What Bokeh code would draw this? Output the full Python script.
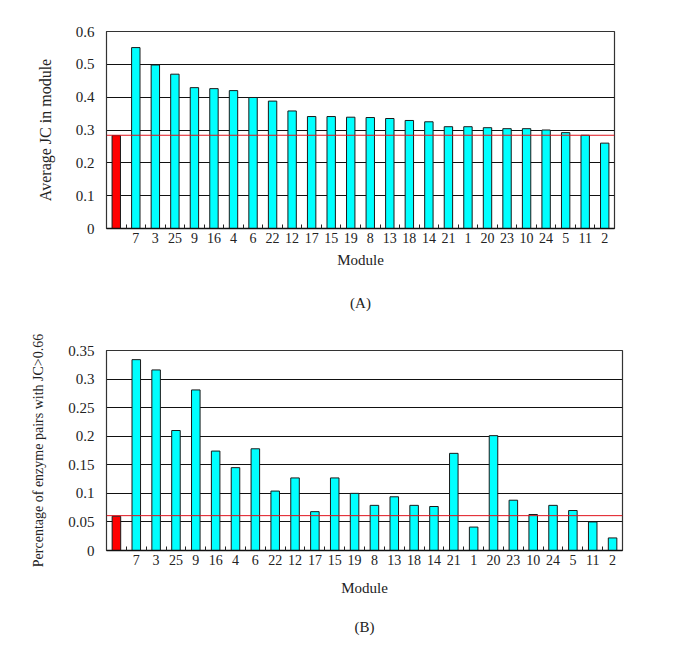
from bokeh.plotting import figure
from bokeh.models import Range1d, FixedTicker, Span, Title, ColumnDataSource
from bokeh.layouts import column
from bokeh.embed import file_html
from bokeh.resources import INLINE

# ---- data ----
modules = ["", "7", "3", "25", "9", "16", "4", "6", "22", "12", "17", "15", "19",
           "8", "13", "18", "14", "21", "1", "20", "23", "10", "24", "5", "11", "2"]
avg_jc = [0.283, 0.551, 0.498, 0.470, 0.429, 0.426, 0.420, 0.399, 0.388, 0.358,
          0.341, 0.341, 0.339, 0.338, 0.335, 0.329, 0.325, 0.310, 0.310, 0.307,
          0.304, 0.304, 0.300, 0.292, 0.284, 0.260]
avg_jc_reference = 0.284
pct_high_jc = [0.060, 0.334, 0.316, 0.210, 0.281, 0.174, 0.145, 0.178, 0.104, 0.127,
               0.068, 0.127, 0.100, 0.079, 0.094, 0.079, 0.077, 0.170, 0.041, 0.201,
               0.088, 0.063, 0.079, 0.070, 0.050, 0.022]
pct_reference = 0.061
y_ticks_a = [0, 0.1, 0.2, 0.3, 0.4, 0.5, 0.6]
y_labels_a = ["0", "0.1", "0.2", "0.3", "0.4", "0.5", "0.6"]
y_ticks_b = [0, 0.05, 0.1, 0.15, 0.2, 0.25, 0.3, 0.35]
y_labels_b = ["0", "0.05", "0.1", "0.15", "0.2", "0.25", "0.3", "0.35"]

FONT = "Liberation Serif"
x_pos = list(range(1, len(modules) + 1))
bar_colors = ["#FF0000"] + ["#00FFFF"] * (len(modules) - 1)


def panel(values, ref, yt, yl, ylabel, caption, width, height,
          bl, br, bt, bb, xlab_standoff, title_standoff, ytitle_size):
    p = figure(width=width, height=height, output_backend="svg", toolbar_location=None,
               x_range=Range1d(0.5, len(modules) + 0.5),
               y_range=Range1d(yt[0], yt[-1]),
               min_border_left=bl, min_border_right=br,
               min_border_top=bt, min_border_bottom=bb)
    src = ColumnDataSource(dict(x=x_pos, top=values, color=bar_colors))
    p.vbar(x="x", top="top", width=0.43, source=src, fill_color="color",
           line_color="#1a1a1a", line_width=1)
    p.add_layout(Span(location=ref, dimension="width", line_color="#E0141E",
                      line_width=1))
    p.outline_line_color = "#333333"
    p.outline_line_width = 1.2
    p.xgrid.visible = False
    p.ygrid.grid_line_color = "#111111"
    p.ygrid.grid_line_width = 1.2
    p.background_fill_color = "white"

    p.xaxis.ticker = FixedTicker(ticks=x_pos,
                                 minor_ticks=[x + 0.5 for x in x_pos[:-1]])
    p.xaxis.major_label_overrides = {x: m for x, m in zip(x_pos, modules)}
    p.xaxis.major_tick_in = 0
    p.xaxis.major_tick_out = 0
    p.xaxis.minor_tick_in = 4
    p.xaxis.minor_tick_out = 0
    p.xaxis.minor_tick_line_color = "#222222"
    p.xaxis.axis_line_color = "#111111"
    p.xaxis.axis_line_width = 1.5
    p.xaxis.major_label_standoff = 4
    p.xaxis.axis_label = "Module"
    p.xaxis.axis_label_standoff = xlab_standoff

    p.yaxis.ticker = FixedTicker(ticks=yt)
    p.yaxis.major_label_overrides = {t: l for t, l in zip(yt, yl)}
    p.yaxis.major_tick_in = 0
    p.yaxis.major_tick_out = 0
    p.yaxis.minor_tick_line_color = None
    p.yaxis.axis_line_color = "#333333"
    p.yaxis.major_label_standoff = 12
    p.yaxis.axis_label = ylabel
    p.yaxis.axis_label_standoff = 19

    for ax in (p.xaxis, p.yaxis):
        ax.major_label_text_font = FONT
        ax.major_label_text_font_size = "14px"
        ax.major_label_text_color = "#222222"
        ax.axis_label_text_font = FONT
        ax.axis_label_text_font_size = "15px"
        ax.axis_label_text_font_style = "normal"
        ax.axis_label_text_color = "#222222"
    p.yaxis.major_label_text_font_size = "15px"
    p.yaxis.axis_label_text_font_size = ytitle_size

    p.add_layout(Title(text=caption, align="center", text_font=FONT,
                       text_font_size="15px", text_font_style="normal",
                       text_color="#222222", standoff=title_standoff), "below")
    return p


pa = panel(avg_jc, avg_jc_reference, y_ticks_a, y_labels_a,
           "Average JC in module", "(A)", 669, 333, 106, 55, 31, 103, 6, 45, "16px")
pb = panel(pct_high_jc, pct_reference, y_ticks_b, y_labels_b,
           "Percentage of enzyme pairs with JC>0.66", "(B)", 677, 327, 104, 55, 17, 110,
           12, 36, "14px")

layout = column(pa, pb, spacing=0)
open("out.html", "w").write(file_html(layout, INLINE))
